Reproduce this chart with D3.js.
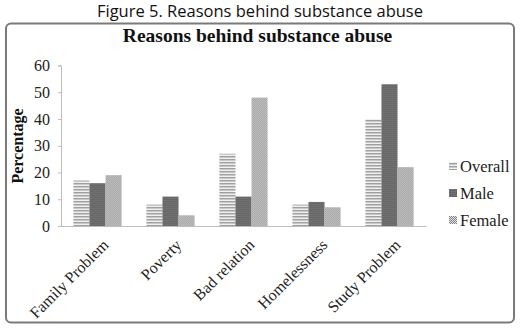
<!DOCTYPE html>
<html><head><meta charset="utf-8">
<script src="https://cdn.jsdelivr.net/npm/d3@7"></script>
<style>body{margin:0;background:#fff}svg{display:block}.serif{font-family:'Liberation Serif','Times New Roman',serif}</style>
</head><body>
<svg id="c" width="520" height="330"></svg>
<script>
const categories = ["Family Problem","Poverty","Bad relation","Homelessness","Study Problem"];
const seriesNames = ["Overall","Male","Female"];
const overall = [17, 8, 27, 8, 40];
const male = [16, 11, 11, 9, 53];
const female = [19, 4, 48, 7, 22];
const yTicks = [0,10,20,30,40,50,60];
const values = [overall, male, female];

const svg = d3.select("#c");
const defs = svg.append("defs");
// Overall: horizontal stripes
const p1 = defs.append("pattern").attr("id","pOverall").attr("width",4).attr("height",3).attr("patternUnits","userSpaceOnUse");
p1.append("rect").attr("width",4).attr("height",3).attr("fill","#f0f0f0");
p1.append("rect").attr("width",4).attr("height",1.5).attr("fill","#a0a0a0");
// Male: dark gray
const p2 = defs.append("pattern").attr("id","pMale").attr("width",2).attr("height",2).attr("patternUnits","userSpaceOnUse");
p2.append("rect").attr("width",2).attr("height",2).attr("fill","#686868");
p2.append("rect").attr("width",1).attr("height",1).attr("fill","#787878");
// Female: checker
const p3 = defs.append("pattern").attr("id","pFemale").attr("width",2).attr("height",2).attr("patternUnits","userSpaceOnUse");
p3.append("rect").attr("width",2).attr("height",2).attr("fill","#e4e4e4");
p3.append("rect").attr("width",1).attr("height",1).attr("fill","#828282");
p3.append("rect").attr("x",1).attr("y",1).attr("width",1).attr("height",1).attr("fill","#828282");
const fills = ["url(#pOverall)","url(#pMale)","url(#pFemale)"];

// Figure caption
svg.append("text").attr("x",260).attr("y",17).attr("text-anchor","middle")
  .attr("font-family","'Open Sans', 'Noto Sans', sans-serif").attr("font-size",16.5).attr("fill","#111")
  .text("Figure 5. Reasons behind substance abuse");

// Frame
svg.append("rect").attr("x",6).attr("y",23.5).attr("width",508).attr("height",299)
  .attr("rx",5).attr("fill","#fff").attr("stroke","#7a7a7a").attr("stroke-width",2);

// Chart title
svg.append("text").attr("class","serif").attr("x",257.5).attr("y",42).attr("text-anchor","middle")
  .attr("font-weight","bold").attr("font-size",19.5).attr("fill","#111")
  .text("Reasons behind substance abuse");

const x0 = d3.scaleBand().domain(categories).range([61,426]).paddingInner(0.34).paddingOuter(0.17);
const x1 = d3.scaleBand().domain(seriesNames).range([0, x0.bandwidth()]);
const y = d3.scaleLinear().domain([0,60]).range([226,65.5]);

// Y axis
const ya = svg.append("g").attr("transform","translate(61,0)")
  .call(d3.axisLeft(y).tickValues(yTicks).tickSize(3).tickPadding(8).tickFormat(d3.format("d")));
ya.select(".domain").attr("stroke","#bdbdbd").attr("stroke-width",1);
ya.selectAll(".tick line").attr("stroke","#bdbdbd");
ya.selectAll("text").attr("class","serif").attr("font-family",null).attr("font-size",16).attr("fill","#222");

// Bars
const groups = svg.append("g").selectAll("g").data(categories).join("g")
  .attr("transform", d => `translate(${x0(d)},0)`);
groups.selectAll("rect").data((d,i) => seriesNames.map((s,j) => ({s, v: values[j][i], j})))
  .join("rect")
  .attr("x", d => x1(d.s)).attr("width", x1.bandwidth())
  .attr("y", d => y(d.v)).attr("height", d => y(0) - y(d.v))
  .attr("fill", d => fills[d.j]);

// X axis
const xa = svg.append("g").attr("transform","translate(0,226)")
  .call(d3.axisBottom(x0).tickSize(0).tickFormat(""));
xa.select(".domain").attr("stroke","#bdbdbd").attr("stroke-width",1);

// X labels rotated
svg.append("g").selectAll("text").data(categories).join("text")
  .attr("class","serif")
  .attr("transform", d => `translate(${x0(d)+x0.bandwidth()/2+8},242) rotate(-45)`)
  .attr("text-anchor","end").attr("dy","0.35em")
  .attr("font-size",16).attr("fill","#222")
  .text(d => d);

// Y title
svg.append("text").attr("class","serif").attr("transform","translate(23,146) rotate(-90)")
  .attr("text-anchor","middle")
  .attr("font-weight","bold").attr("font-size",16).attr("fill","#111")
  .text("Percentage");

// Legend
const lg = svg.append("g").selectAll("g").data(seriesNames).join("g")
  .attr("transform",(d,i)=>`translate(449,${166 + i*27})`);
lg.append("rect").attr("x",0).attr("y",-4).attr("width",8).attr("height",8).attr("fill",(d,i)=>fills[i]);
lg.append("text").attr("class","serif").attr("x",11).attr("dy","0.35em")
  .attr("font-size",16.5).attr("fill","#222")
  .text(d=>d);
</script>
</body></html>
